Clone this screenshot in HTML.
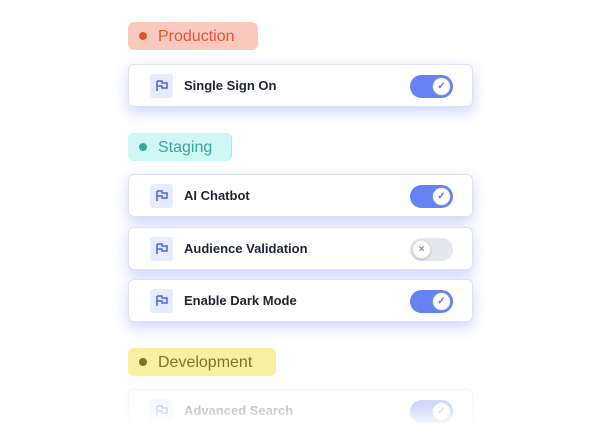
<!DOCTYPE html>
<html><head><style>
body{margin:0;width:600px;height:440px;background:#fff;position:relative;overflow:hidden;font-family:"Liberation Sans",sans-serif}
.badge{position:absolute;left:128px;height:28px;border-radius:6px;font-size:16px;line-height:29px;padding-left:30px;box-sizing:border-box}
.badge:before{content:"";position:absolute;left:11px;top:10px;width:8px;height:8px;border-radius:50%;background:currentColor}
.card{position:absolute;left:128px;width:345px;height:43px;background:#fff;border:1px solid #dfe2ee;border-radius:6px;box-sizing:border-box;box-shadow:0 5px 14px rgba(110,125,245,.35)}
.ic{position:absolute;left:21px;top:9px;width:23px;height:24px;background:#e7ebfb;border-radius:3px}
.ic svg{position:absolute;left:6px;top:6px}
.t{position:absolute;left:55px;top:13px;font-size:13px;font-weight:bold;color:#1f2433}
.tg{position:absolute;left:281px;top:10px;width:43px;height:23px;border-radius:12px;background:#6681f2}
.tg .k{position:absolute;right:2px;top:2px;width:17px;height:17px;border:1px solid #7b90f2;border-radius:50%;background:#fff;color:#5b74ee;font-size:10px;text-align:center;line-height:17px;font-weight:bold}
.off{background:#e6e7ec}
.off .k{left:2px;right:auto;color:#888;border-color:#ddd;box-shadow:0 1px 2px rgba(0,0,0,.2)}
</style></head><body>
<div class="badge" style="top:22px;width:130px;background:#f9c9bd;color:#df5434"><span>Production</span></div>
<div class="card" style="top:64px"><div class="ic"><svg width="12" height="12"><path d="M1 1v10M1 1h5v2h5v5H6V6H1" fill="none" stroke="#4a63e8" stroke-width="1.5"/></svg></div><div class="t">Single Sign On</div><div class="tg"><div class="k">✓</div></div></div>
<div class="badge" style="top:133px;width:104px;background:#cff7f5;color:#3fa39d;border-right:1px solid #bde"><span>Staging</span></div>
<div class="card" style="top:174px"><div class="ic"><svg width="12" height="12"><path d="M1 1v10M1 1h5v2h5v5H6V6H1" fill="none" stroke="#4a63e8" stroke-width="1.5"/></svg></div><div class="t">AI Chatbot</div><div class="tg"><div class="k">✓</div></div></div>
<div class="card" style="top:227px"><div class="ic"><svg width="12" height="12"><path d="M1 1v10M1 1h5v2h5v5H6V6H1" fill="none" stroke="#4a63e8" stroke-width="1.5"/></svg></div><div class="t">Audience Validation</div><div class="tg off"><div class="k">×</div></div></div>
<div class="card" style="top:279px"><div class="ic"><svg width="12" height="12"><path d="M1 1v10M1 1h5v2h5v5H6V6H1" fill="none" stroke="#4a63e8" stroke-width="1.5"/></svg></div><div class="t">Enable Dark Mode</div><div class="tg"><div class="k">✓</div></div></div>
<div class="badge" style="top:348px;width:148px;background:#f8f0a0;color:#7d7426"><span>Development</span></div>
<div class="card" style="top:389px;opacity:.3;box-shadow:0 3px 8px rgba(110,125,245,.2)"><div class="ic"><svg width="12" height="12"><path d="M1 1v10M1 1h5v2h5v5H6V6H1" fill="none" stroke="#4a63e8" stroke-width="1.5"/></svg></div><div class="t">Advanced Search</div><div class="tg"><div class="k">✓</div></div></div>
<div style="position:absolute;left:0;top:405px;width:600px;height:35px;background:linear-gradient(rgba(255,255,255,0),#fff 70%)"></div>
</body></html>
